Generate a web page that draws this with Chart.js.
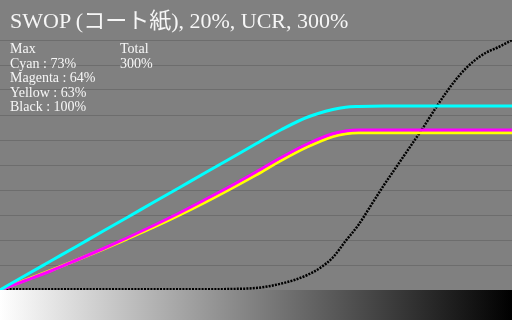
<!DOCTYPE html>
<html>
<head>
<meta charset="utf-8">
<script src="https://cdn.jsdelivr.net/npm/chart.js@4.4.1/dist/chart.umd.min.js"></script>
<style>
    html, body { margin: 0; padding: 0; background: #808080; }
    #wrap { position: relative; width: 512px; height: 320px; overflow: hidden; }
    #curveChart { position: absolute; left: 0; top: 0; }
    .txt {
        position: absolute;
        color: #f6f6f6;
        font-family: 'Liberation Serif', 'Noto Sans CJK JP', serif;
        white-space: nowrap;
    }
    #title { left: 10px; top: 10px; font-size: 22px; line-height: 22px; }
    #maxBlock { left: 10px; top: 42px; font-size: 14px; line-height: 14.5px; }
    #totalBlock { left: 120px; top: 42px; font-size: 14px; line-height: 14.5px; }
</style>
</head>
<body>
<div id="wrap">
    <canvas id="curveChart" width="512" height="320"></canvas>
    <div class="txt" id="title"></div>
    <div class="txt" id="maxBlock"></div>
    <div class="txt" id="totalBlock"></div>
</div>
<script>
// --- Data ---
const chartTitle = 'SWOP (コート紙), 20%, UCR, 300%';
const maxLines = ['Max', 'Cyan : 73%', 'Magenta : 64%', 'Yellow : 63%', 'Black : 100%'];
const totalLines = ['Total', '300%'];

// input tone (%) -> ink output (%)
const cmyInput      = [0, 5, 10, 15, 20, 25, 30, 35, 40, 45, 50, 55, 60, 65, 67.5, 70, 75, 80, 90, 100];
const cyanValues    = [0, 5.9, 11.7, 17.5, 23.4, 29.2, 35.1, 40.9, 46.8, 52.6, 58.5, 64.2, 69.1, 72.2, 73.1, 73.4, 73.6, 73.6, 73.6, 73.6];
const magentaValues = [0, 3.8, 7.7, 12, 16.4, 21, 25.8, 30.8, 36.1, 41.5, 47.2, 53.1, 58.4, 62.5, 63.6, 64, 64, 64, 64, 64];
const yellowValues  = [0, 4, 7.9, 12, 16.2, 20.6, 25.1, 29.9, 35, 40.4, 46, 51.9, 57.2, 61.4, 62.5, 62.9, 62.9, 62.9, 62.9, 62.9];

const blackInput  = [0, 10, 20, 30, 40, 45, 50, 52.5, 55, 57.5, 60, 62.5, 65, 67.5, 70, 72.5, 75, 77.5, 80, 82.5, 85, 87.5, 90, 92.5, 95, 97.5, 100];
const blackValues = [0.3, 0.3, 0.3, 0.3, 0.3, 0.4, 0.8, 1.5, 2.6, 4, 6, 8.8, 13, 19.6, 26, 34, 42, 49.5, 57, 64.5, 72.5, 80, 86.5, 91.5, 95, 97.3, 100];

const yTicks = [0, 10, 20, 30, 40, 50, 60, 70, 80, 90, 100];

document.getElementById('title').textContent = chartTitle;
document.getElementById('maxBlock').innerHTML = maxLines.join('<br>');
document.getElementById('totalBlock').innerHTML = totalLines.join('<br>');

function toPoints(xs, ys) {
    return xs.map((x, i) => ({ x: x, y: ys[i] }));
}

// background + grey ramp under the plot
const backdrop = {
    id: 'backdrop',
    beforeDraw(chart) {
        const ctx = chart.ctx;
        ctx.save();
        ctx.fillStyle = '#808080';
        ctx.fillRect(0, 0, chart.width, chart.height);
        ctx.restore();
    },
    beforeDatasetsDraw(chart) {
        const ctx = chart.ctx;
        const top = chart.chartArea.bottom;
        const ramp = ctx.createLinearGradient(0, 0, chart.width, 0);
        ramp.addColorStop(0, '#ffffff');
        ramp.addColorStop(1, '#000000');
        ctx.save();
        ctx.fillStyle = ramp;
        ctx.fillRect(0, top, chart.width, chart.height - top);
        ctx.restore();
    }
};

const lineStyle = {
    pointRadius: 0,
    fill: false,
    cubicInterpolationMode: 'monotone'
};

new Chart(document.getElementById('curveChart'), {
    type: 'line',
    data: {
        datasets: [
            { label: 'Cyan', data: toPoints(cmyInput, cyanValues), borderColor: '#00ffff', borderWidth: 3, ...lineStyle },
            { label: 'Magenta', data: toPoints(cmyInput, magentaValues), borderColor: '#ff00ff', borderWidth: 3, ...lineStyle },
            { label: 'Yellow', data: toPoints(cmyInput, yellowValues), borderColor: '#ffff00', borderWidth: 3, ...lineStyle },
            { label: 'Black', data: toPoints(blackInput, blackValues), borderColor: '#000000', borderWidth: 2.5, borderDash: [2, 1.2], ...lineStyle }
        ]
    },
    options: {
        responsive: false,
        animation: false,
        layout: { padding: { top: 40, bottom: 30, left: 0, right: 0 } },
        plugins: {
            legend: { display: false },
            tooltip: { enabled: false },
            title: { display: false }
        },
        scales: {
            x: {
                type: 'linear',
                min: 0,
                max: 100,
                display: false
            },
            y: {
                min: 0,
                max: 100,
                afterBuildTicks: (axis) => { axis.ticks = yTicks.map(v => ({ value: v })); },
                ticks: { display: false },
                grid: { color: '#6d6d6d', lineWidth: 1, drawTicks: false },
                border: { display: false }
            }
        }
    },
    plugins: [backdrop]
});
</script>
</body>
</html>
